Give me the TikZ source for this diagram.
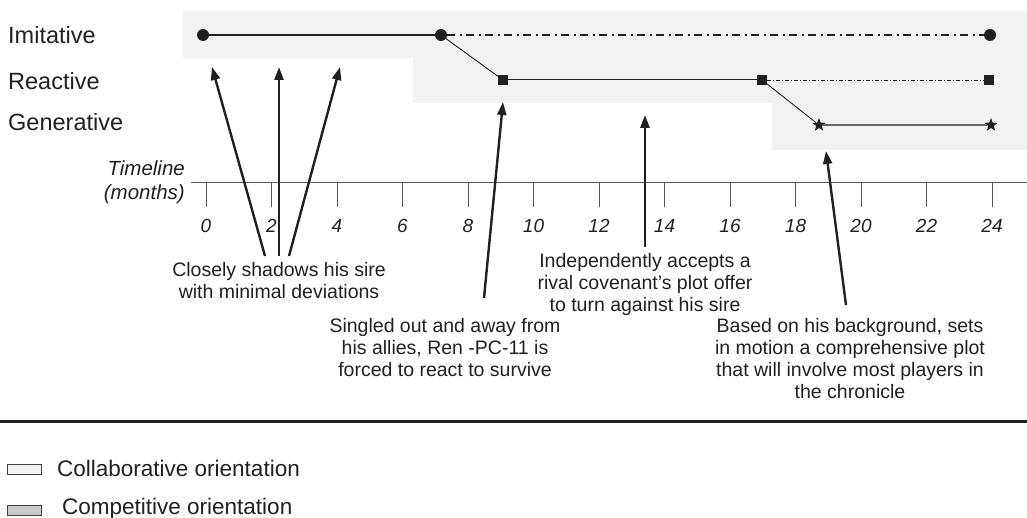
\documentclass[tikz,border=0pt]{standalone}
\usepackage{fontspec}
\setmainfont{Liberation Sans}
\usetikzlibrary{arrows.meta,shapes.geometric}
\definecolor{bandgray}{HTML}{F1F2F4}
\definecolor{ink}{HTML}{231F20}
\definecolor{lgtfill}{HTML}{F3F4F6}
\definecolor{drkfill}{HTML}{C8C9CB}
\begin{document}
\begin{tikzpicture}[x=1pt,y=-1pt,
  rowlab/.style={anchor=base west,font=\fontsize{23.5}{27}\selectfont,text=ink,inner sep=0pt},
  ann/.style={align=center,font=\fontsize{19.5}{22}\selectfont,text=ink,inner sep=0pt},
  ticklab/.style={font=\fontsize{19}{22}\selectfont\itshape,text=ink},
  dotm/.style={circle,fill=ink,inner sep=0pt,minimum size=12pt},
  sqm/.style={rectangle,fill=ink,inner sep=0pt,minimum size=9.5pt},
  stm/.style={star,star points=5,star point ratio=2.4,fill=ink,inner sep=0pt,minimum size=14pt},
  ptr/.style={draw=ink,line width=2.4pt,-{Triangle[length=13pt,width=9pt]}},
  legbox/.style={draw=black!75,line width=0.8pt,minimum width=34pt,minimum height=10pt,inner sep=0pt},
  legtxt/.style={anchor=west,font=\fontsize{22.5}{26}\selectfont,text=ink,inner sep=0pt},
]
\useasboundingbox (0,0) rectangle (1027,518);
% shaded orientation area
\fill[bandgray] (183,11) -- (1027,11) -- (1027,150) -- (772,150) -- (772,103)
  -- (413,103) -- (413,58) -- (183,58) -- cycle;
% row labels
\node[rowlab] (limi) at (8,44) {Imitative};
\node[rowlab] (lrea) at (8,90) {Reactive};
\node[rowlab] (lgen) at (8,131) {Generative};
% timeline
\node[align=right,anchor=east,font=\fontsize{20.5}{24}\selectfont\itshape,text=ink,inner sep=0pt] (tl) at (185,182) {Timeline\\(months)};
\coordinate (axL) at (191,183);
\coordinate (axR) at (1027,183);
\draw[black!65,line width=1pt] (axL) -- (axR);
\foreach \m in {0,2,...,24}{
  \draw[black!65,line width=1pt] ({206+32.75*\m},183) -- ({206+32.75*\m},207);
  \node[ticklab] (t\m) at ({206+32.75*\m},226) {\m};
}
% markers
\node[dotm] (i1) at (203,35) {};
\node[dotm] (i2) at (441,35) {};
\node[dotm] (i3) at (990,35) {};
\node[sqm] (r1) at (503,80) {};
\node[sqm] (r2) at (762,80) {};
\node[sqm] (r3) at (989,80) {};
\node[stm] (g1) at (819,125) {};
\node[stm] (g2) at (991,125) {};
% lines
\draw[ink,line width=2pt] (i1) -- (i2);
\draw[ink,line width=2pt,dash pattern=on 8pt off 4.5pt on 2pt off 4.5pt] (i2) -- (i3);
\draw[ink,line width=0.9pt] (i2.center) -- (r1);
\draw[ink,line width=1pt] (r1) -- (r2);
\draw[ink,line width=0.8pt,dash pattern=on 4pt off 2pt on 1pt off 2pt] (r2) -- (r3);
\draw[ink,line width=0.9pt] (r2.center) -- (g1);
\draw[black!60,line width=1.8pt] (g1) -- (g2);
% annotations
\node[ann] (a1) at (279,281) {Closely shadows his sire\\with minimal deviations};
\node[ann] (a2) at (645,284) {Independently accepts a\\rival covenant's plot offer\\to turn against his sire};
\node[ann] (a3) at (445,348) {Singled out and away from\\his allies, Ren -PC-11 is\\forced to react to survive};
\node[ann] (a4) at (850,359) {Based on his background, sets\\in motion a comprehensive plot\\that will involve most players in\\the chronicle};
% arrows
\coordinate (s1) at (265,256); \coordinate (e1) at (212,67);
\coordinate (s2) at (279,256); \coordinate (e2) at (279,67);
\coordinate (s3) at (289,256); \coordinate (e3) at (340,67);
\coordinate (s4) at (484,298); \coordinate (e4) at (503,102);
\coordinate (s5) at (645,247); \coordinate (e5) at (645,115);
\coordinate (s6) at (846,305); \coordinate (e6) at (826,151);
\foreach \k in {1,...,6}{\draw[ptr] (s\k) -- (e\k);}
% rule and legend
\coordinate (ruleL) at (0,421);
\coordinate (ruleR) at (1027,421);
\draw[ink,line width=3pt] (ruleL) -- (ruleR);
\node[legbox,fill=lgtfill] (b1) at (24,469) {};
\node[legtxt] (l1) at (57,468) {Collaborative orientation};
\node[legbox,fill=drkfill] (b2) at (24,510) {};
\node[legtxt] (l2) at (62,509) {Competitive orientation};
\end{tikzpicture}
\end{document}
